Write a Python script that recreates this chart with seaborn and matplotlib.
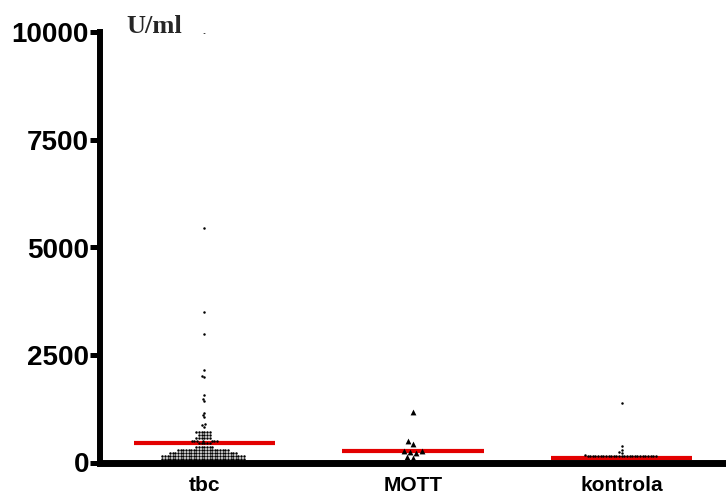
import matplotlib
matplotlib.use("Agg")
import matplotlib.pyplot as plt
import seaborn as sns
import pandas as pd

categories = ["tbc", "MOTT", "kontrola"]

tbc_values = [
    10000, 5450, 3500, 3000, 2150, 2010, 1990, 1570, 1480, 1430,
    1150, 1100, 1050, 900, 870, 830,
    710, 710, 705, 705, 700, 700,
    640, 640, 635, 635, 630,
    570, 570, 565, 565, 560, 560,
    500, 500, 495, 495, 490, 490, 490,
    455, 455, 450, 450, 445,
    360, 360, 360, 360, 360, 360, 360,
    291, 291, 291, 291, 291, 291, 291, 291, 291, 291, 291, 291, 291, 291, 291, 291,
    291, 291, 291, 291,
    221, 221, 221, 221, 221, 221, 221, 221, 221, 221, 221, 221, 221, 221, 221, 221,
    221, 221, 221, 221, 221, 221, 221, 221, 221, 221,
    151, 151, 151, 151, 151, 151, 151, 151, 151, 151, 151, 151, 151, 151, 151, 151,
    151, 151, 151, 151, 151, 151, 151, 151, 151, 151, 151, 151, 151, 151, 151, 151,
    81, 81, 81, 81, 81, 81, 81, 81, 81, 81, 81, 81, 81, 81, 81, 81,
    81, 81, 81, 81, 81, 81, 81, 81, 81, 81, 81, 81, 81, 81, 81, 81,
]
mott_values = [1170, 500, 430, 270, 245, 220, 265, 100, 125]
kontrola_values = [
    1380, 385, 290, 245, 220, 175,
    145, 145, 145, 145, 145, 145, 145, 145, 145, 145, 145, 145, 145, 145, 145, 145,
    145, 145, 145, 145, 145, 145, 145, 145, 145, 145, 145,
]
center_values = [460, 267, 110]

y_ticks = [0, 2500, 5000, 7500, 10000]
unit_label = "U/ml"

df = pd.concat([
    pd.DataFrame({"group": "tbc", "value": tbc_values}),
    pd.DataFrame({"group": "MOTT", "value": mott_values}),
    pd.DataFrame({"group": "kontrola", "value": kontrola_values}),
], ignore_index=True)

sns.set_theme(style="white")
plt.rcParams["font.family"] = ["Liberation Sans", "DejaVu Sans"]

fig = plt.figure(figsize=(7.26, 4.97), dpi=100)
ax = fig.add_axes([100 / 726, 1 - 462.5 / 497, 626 / 726, 430 / 497])

for i, c in enumerate(center_values):
    ax.hlines(c, i - 0.338, i + 0.338, color="#e30000", linewidth=3.0, zorder=2)

# (group, marker, layout size, drawn size)
styles = [("tbc", "o", 2.1, 1.8), ("MOTT", "^", 4.2, 4.2), ("kontrola", "o", 2.1, 1.8)]
for grp, mk, sz, draw_sz in styles:
    n_before = len(ax.collections)
    sns.swarmplot(data=df[df["group"] == grp], x="group", y="value", order=categories,
                  marker=mk, size=sz, color="black", linewidth=0, ax=ax, zorder=3)
    fig.canvas.draw()
    for coll in ax.collections[n_before:]:
        coll.set_sizes([draw_sz ** 2])

ax.set_ylim(0, 10000)
ax.set_xlim(-0.5, 2.5)
ax.set_yticks(y_ticks)
ax.set_yticklabels([str(t) for t in y_ticks], fontsize=20, fontweight="bold")
ax.set_xticks(range(len(categories)))
ax.set_xticklabels(categories, fontsize=15, fontweight="bold")
ax.set_xlabel("")
ax.set_ylabel("")

for s in ["top", "right"]:
    ax.spines[s].set_visible(False)
ax.spines["left"].set_linewidth(4.3)
ax.spines["bottom"].set_linewidth(5.0)
ax.spines["left"].set_color("black")
ax.spines["bottom"].set_color("black")
ax.spines["left"].set_bounds(0, 10000)
ax.spines["bottom"].set_zorder(5)

ax.tick_params(axis="y", which="both", left=True, length=7, width=3.6, color="black",
               pad=1, labelcolor="black")
ax.tick_params(axis="x", which="both", bottom=False, length=0, pad=10, labelcolor="black")
ax.grid(False)

ax.text(126 / 726, 1 - 33 / 497, unit_label, transform=fig.transFigure,
        fontsize=19, fontweight="bold", family=["Liberation Serif", "DejaVu Serif"],
        ha="left", va="baseline")

fig.savefig("out.png", dpi=100)
